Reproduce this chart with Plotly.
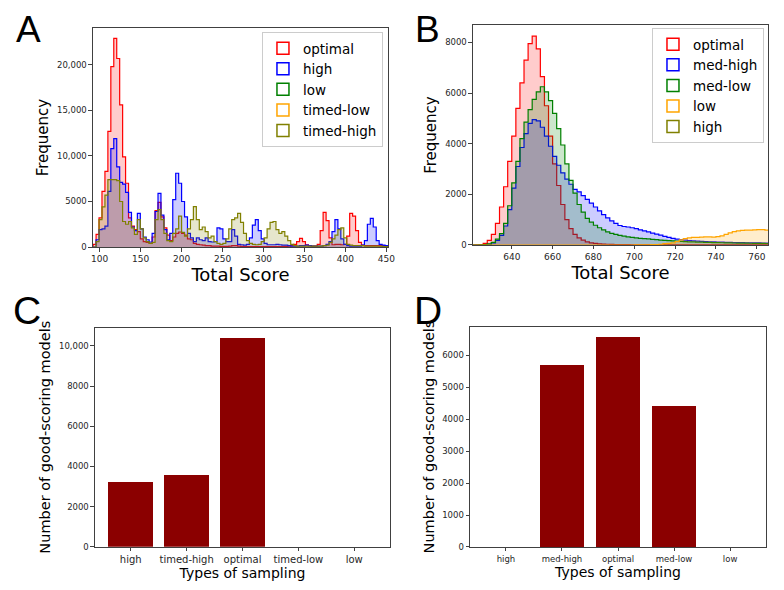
import numpy as np
import plotly.graph_objects as go

# Panel A: histogram counts of total score, bins of width 3.6 starting at 92
a_bin_start = 92.0
a_bin_width = 3.6
a_optimal = [300, 1400, 3200, 6100, 8300, 12700, 19800, 22900, 20700, 15600,
             9900, 7000, 3200, 2300, 1900, 1700, 900, 600, 500, 400,
             1100, 4000, 4900, 3300, 2100, 1300, 700, 1100, 1500, 1650,
             1500, 1300, 900, 800, 400, 300, 250, 200, 150, 150,
             100, 100, 100, 80, 80, 80, 100, 150, 150, 100,
             80, 60, 60, 60, 60, 60, 60, 60, 60, 60,
             60, 60, 60, 60, 60, 80, 100, 150, 300, 590,
             950, 600, 250, 150, 100, 100, 300, 1800, 3800, 2900,
             1000, 250, 300, 300, 250, 300, 1200, 3700, 3400, 1800,
             500, 200, 150, 150, 150, 150, 150, 150, 150, 150]
a_high = [0, 800, 1900, 2000, 2300, 6100, 10800, 11900, 8800, 7100,
          6900, 6000, 3800, 2200, 1800, 3700, 2000, 1100, 800, 550,
          1500, 3900, 5900, 3500, 1900, 800, 1500, 5200, 8100, 7000,
          5000, 3300, 1500, 1000, 600, 1000, 800, 700, 1000, 600,
          550, 600, 2100, 2000, 900, 600, 600, 1900, 1200, 300,
          250, 200, 300, 1000, 2400, 3000, 1800, 900, 400, 250,
          250, 250, 300, 250, 200, 200, 150, 100, 100, 100,
          150, 150, 200, 150, 100, 100, 100, 100, 150, 300,
          600, 1700, 3000, 2000, 900, 300, 150, 100, 100, 100,
          100, 200, 700, 2500, 3150, 2200, 700, 300, 200, 150]
a_timed_high = [0, 600, 3000, 4400, 5700, 7400, 7400, 7400, 7300, 5000,
                2800, 2500, 2800, 2100, 1400, 3000, 2000, 1000, 600, 400,
                500, 3000, 4100, 3000, 1500, 700, 600, 1500, 2000, 3400,
                1600, 1200, 2000, 3000, 4430, 3000, 1900, 2200, 1700, 1000,
                1200, 600, 400, 300, 400, 900, 2000, 3000, 3200, 3700,
                2700, 1500, 700, 400, 300, 250, 300, 600, 1000, 2000,
                2700, 2800, 1900, 1500, 1700, 1200, 700, 300, 150, 100,
                100, 100, 100, 100, 100, 100, 100, 100, 150, 200,
                500, 900, 1300, 1900, 2100, 1000, 300, 200, 150, 150,
                150, 150, 100, 100, 100, 100, 100, 100, 50, 50]
a_names = ['optimal', 'high', 'low', 'timed-low', 'timed-high']

# Panel B: histogram counts, bins of width 2 starting at 620
b_bin_start = 620.0
b_bin_width = 2.0
b_optimal = [0, 5, 20, 60, 180, 420, 850, 1500, 2300, 3300,
             4300, 5400, 6400, 7300, 7950, 8250, 7750, 6650, 5500, 4300,
             3200, 2350, 1600, 1000, 650, 420, 280, 190, 120, 80,
             60, 45, 35, 30, 25, 20, 18, 15, 12, 10,
             10, 8, 8, 6, 5, 5, 4, 3, 2, 2,
             2, 2, 2, 2, 2, 2, 2, 2, 2, 2,
             2, 2, 2, 2, 2, 2, 2, 2, 2, 2,
             2, 2, 2]
b_med_high = [0, 0, 0, 10, 30, 80, 180, 380, 750, 1400,
              2250, 3100, 3850, 4400, 4800, 4950, 4900, 4650, 4300, 3900,
              3500, 3150, 2850, 2600, 2400, 2200, 2100, 1950, 1800, 1650,
              1500, 1350, 1200, 1070, 950, 850, 770, 730, 710, 680,
              650, 600, 560, 520, 470, 430, 390, 340, 300, 260,
              230, 210, 190, 175, 165, 155, 145, 135, 125, 120,
              115, 110, 105, 100, 95, 90, 90, 85, 85, 80,
              80, 75, 75]
b_med_low = [0, 0, 5, 15, 40, 100, 230, 450, 850, 1550,
             2450, 3300, 4200, 4850, 5350, 5750, 6050, 6250, 6050, 5700,
             5200, 4600, 3950, 3200, 2550, 2050, 1600, 1300, 1050, 900,
             780, 680, 600, 520, 460, 420, 380, 350, 320, 300,
             280, 260, 250, 240, 225, 210, 195, 180, 170, 165,
             155, 145, 135, 125, 120, 115, 110, 105, 100, 95,
             90, 88, 85, 80, 78, 75, 72, 70, 68, 65,
             63, 60, 58]
b_low = [0, 0, 0, 0, 0, 0, 0, 0, 0, 0,
         0, 0, 0, 0, 0, 0, 0, 0, 0, 0,
         0, 0, 0, 0, 0, 0, 0, 0, 0, 0,
         0, 0, 0, 0, 0, 0, 0, 0, 0, 0,
         5, 5, 10, 10, 15, 20, 30, 50, 60, 80,
         130, 200, 250, 280, 300, 300, 310, 320, 320, 310,
         330, 360, 420, 480, 530, 560, 575, 590, 590, 595,
         610, 610, 590]
b_names = ['optimal', 'med-high', 'med-low', 'low', 'high']

# Panels C and D: number of good-scoring models
c_types = ['high', 'timed-high', 'optimal', 'timed-low', 'low']
c_counts = [3230, 3600, 10390, 0, 0]
d_types = ['high', 'med-high', 'optimal', 'med-low', 'low']
d_counts = [0, 5690, 6565, 4410, 0]

a_colors = {'optimal': '#ff0000', 'high': '#0000ff', 'low': '#008000',
            'timed-low': '#ffa500', 'timed-high': '#808000'}
b_colors = {'optimal': '#ff0000', 'med-high': '#0000ff', 'med-low': '#008000',
            'low': '#ffa500', 'high': '#808000'}
bar_color = '#8b0000'
FONT = 'DejaVu Sans'


def rgba(hex_color, alpha):
    h = hex_color.lstrip('#')
    r, g, b = int(h[0:2], 16), int(h[2:4], 16), int(h[4:6], 16)
    return 'rgba(%d,%d,%d,%s)' % (r, g, b, alpha)


def step_xy(start, width, counts):
    # outline of a matplotlib-style "stepfilled" histogram
    edges = start + width * np.arange(len(counts) + 1)
    xs = [edges[0]] + list(edges) + [edges[-1]]
    ys = [0] + list(counts) + [counts[-1], 0]
    return xs, ys


fig = go.Figure()


def add_hist(start, width, counts, color, xa, ya):
    xs, ys = step_xy(start, width, counts)
    fig.add_trace(go.Scatter(x=xs, y=ys, mode='lines', line_shape='hv',
                             line=dict(color=color, width=1.2),
                             fill='tozeroy', fillcolor=rgba(color, 0.2),
                             hoverinfo='skip', showlegend=False,
                             xaxis=xa, yaxis=ya))


def add_legend_entry(name, color, xa, ya, legend):
    fig.add_trace(go.Bar(x=[None], y=[None], name=name, legend=legend,
                         marker=dict(color='rgba(0,0,0,0)',
                                     line=dict(color=color, width=1.5)),
                         xaxis=xa, yaxis=ya))


# Panel A
a_series = {'optimal': a_optimal, 'high': a_high, 'timed-high': a_timed_high}
for name in a_names:
    if name in a_series:
        add_hist(a_bin_start, a_bin_width, a_series[name], a_colors[name], 'x', 'y')
for name in a_names:
    add_legend_entry(name, a_colors[name], 'x', 'y', 'legend')

# Panel B
b_series = {'optimal': b_optimal, 'med-high': b_med_high,
            'med-low': b_med_low, 'low': b_low}
for name in b_names:
    if name in b_series:
        add_hist(b_bin_start, b_bin_width, b_series[name], b_colors[name], 'x2', 'y2')
for name in b_names:
    add_legend_entry(name, b_colors[name], 'x2', 'y2', 'legend2')

# Panels C and D
fig.add_trace(go.Bar(x=c_types, y=c_counts, marker_color=bar_color, width=0.8,
                     showlegend=False, xaxis='x3', yaxis='y3'))
fig.add_trace(go.Bar(x=d_types, y=d_counts, marker_color=bar_color, width=0.8,
                     showlegend=False, xaxis='x4', yaxis='y4'))

spine = dict(showline=True, mirror=True, linecolor='#404040', linewidth=1,
             ticks='outside', ticklen=3.5, tickwidth=0.8, tickcolor='#404040',
             showgrid=False, zeroline=False, automargin=False)
tick_font = dict(family=FONT, size=8.5, color='#262626')

# the page body adds an 8px margin, so the figure is sized to fill the rest
fig.update_layout(
    width=776, height=582, template='none',
    margin=dict(l=0, r=0, t=0, b=0),
    paper_bgcolor='white', plot_bgcolor='white',
    font=dict(family=FONT, color='black'),
    bargap=0,
    xaxis=dict(domain=[0.1095, 0.4897], range=[91.8, 452],
               tickvals=[100, 150, 200, 250, 300, 350, 400, 450],
               tickfont=dict(family=FONT, size=9, color='#262626'),
               title=dict(text='Total Score', font=dict(size=18), standoff=4),
               anchor='y', **spine),
    yaxis=dict(domain=[0.5893, 0.9656], range=[0, 24045],
               tickvals=[0, 5000, 10000, 15000, 20000],
               ticktext=['0', '5000', '10,000', '15,000', '20,000'],
               tickfont=tick_font,
               title=dict(text='Frequency', font=dict(size=15), standoff=4),
               anchor='x', **spine),
    xaxis2=dict(domain=[0.5992, 0.9794], range=[621, 765.5],
                tickvals=[640, 660, 680, 700, 720, 740, 760],
                tickfont=dict(family=FONT, size=9, color='#262626'),
                title=dict(text='Total Score', font=dict(size=18), standoff=4),
                anchor='y2', **spine),
    yaxis2=dict(domain=[0.5928, 0.9708], range=[0, 8690],
                tickvals=[0, 2000, 4000, 6000, 8000], tickfont=tick_font,
                title=dict(text='Frequency', font=dict(size=15), standoff=4),
                anchor='x2', **spine),
    xaxis3=dict(domain=[0.1121, 0.4923], range=[-0.64, 4.64], type='category',
                tickfont=dict(family=FONT, size=10, color='#262626'),
                title=dict(text='Types of sampling', font=dict(size=14), standoff=2),
                anchor='y3', **spine),
    yaxis3=dict(domain=[0.0744, 0.4507], range=[0, 10912],
                tickvals=[0, 2000, 4000, 6000, 8000, 10000],
                ticktext=['0', '2000', '4000', '6000', '8000', '10,000'],
                tickfont=tick_font,
                title=dict(text='Number of good-scoring models', font=dict(size=14.5), standoff=4),
                anchor='x3', **spine),
    xaxis4=dict(domain=[0.5954, 0.9768], range=[-0.64, 4.64], type='category',
                tickfont=dict(family=FONT, size=8.5, color='#262626'),
                title=dict(text='Types of sampling', font=dict(size=14), standoff=2),
                anchor='y4', **spine),
    yaxis4=dict(domain=[0.0739, 0.4519], range=[0, 6890],
                tickvals=[0, 1000, 2000, 3000, 4000, 5000, 6000], tickfont=tick_font,
                title=dict(text='Number of good-scoring models', font=dict(size=14.5), standoff=4),
                anchor='x4', **spine),
    legend=dict(x=0.4832, y=0.9588, xanchor='right', yanchor='top',
                bgcolor='rgba(255,255,255,0.8)', bordercolor='#cccccc', borderwidth=1,
                font=dict(family=FONT, size=13.5, color='black'), tracegroupgap=0),
    legend2=dict(x=0.9742, y=0.9656, xanchor='right', yanchor='top',
                 bgcolor='rgba(255,255,255,0.8)', bordercolor='#cccccc', borderwidth=1,
                 font=dict(family=FONT, size=13.5, color='black'), tracegroupgap=0),
)

# Panel letters (A and B hang from the top edge so they are not clipped)
letter_font = dict(family='Liberation Sans', size=37, color='black')
for letter, px in [('A', 0.0258), ('B', 0.5412)]:
    fig.add_annotation(text=letter, x=px, y=1.0, xref='paper', yref='paper',
                       xanchor='center', yanchor='top', showarrow=False,
                       borderpad=0, font=letter_font)
for letter, px in [('C', 0.0245), ('D', 0.5412)]:
    fig.add_annotation(text=letter, x=px, y=0.4794, xref='paper', yref='paper',
                       xanchor='center', yanchor='middle', showarrow=False,
                       font=dict(family='Liberation Sans', size=39, color='black'))

fig.write_html("out.html")
